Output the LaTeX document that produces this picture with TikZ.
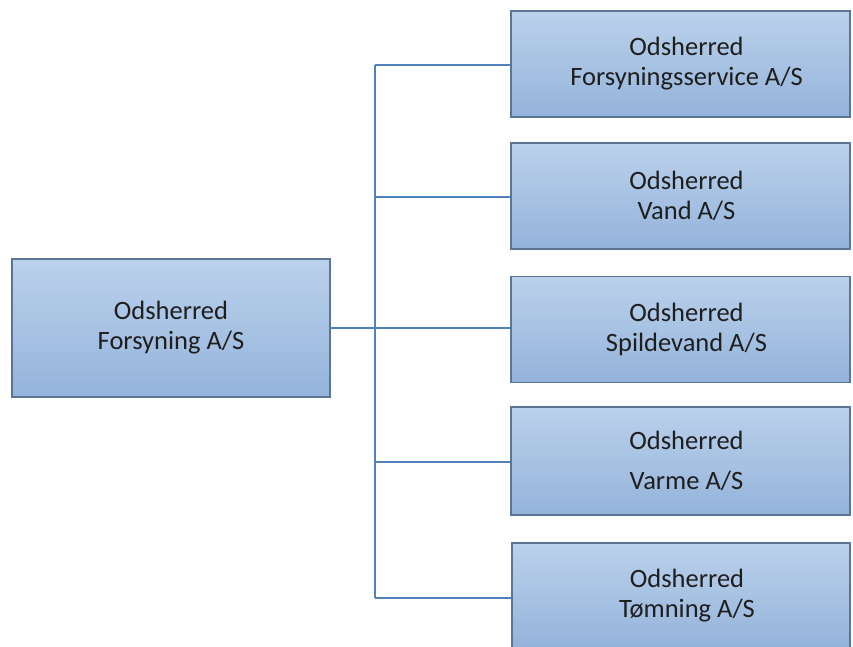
\documentclass[tikz,border=0pt]{standalone}
\usepackage{fontspec}
\setmainfont{Carlito}
\definecolor{boxtop}{HTML}{BBD1EC}
\definecolor{boxbot}{HTML}{94B3DA}
\definecolor{boxline}{HTML}{5B7594}
\definecolor{conn}{HTML}{4F81BD}
\definecolor{txt}{HTML}{1E1E1E}
\begin{document}
\begin{tikzpicture}[x=1pt,y=-1pt,
  orgbox/.style={rectangle, draw=boxline, line width=1.2pt, top color=boxtop, bottom color=boxbot,
    minimum width=339pt, minimum height=106pt, inner sep=0pt, align=center,
    font=\fontsize{26.5}{30}\selectfont, text=txt},
  boxtext/.style={align=center, inner sep=0pt, xshift=6pt,
    font=\fontsize{26.5}{30}\selectfont, text=txt},
  link/.style={draw=conn, line width=1.5pt}]
\useasboundingbox (0,0) rectangle (853,646);
\clip (0,0) rectangle (853,646);
\node[orgbox, minimum width=318pt, minimum height=138pt] (root) at (171,328) {Odsherred\\Forsyning A/S};
\node[orgbox] (c1) at (680.5,64) {};
\node[orgbox] (c2) at (680.5,196) {};
\node[orgbox] (c3) at (680.5,329.5) {};
\node[orgbox, minimum height=108pt] (c4) at (680.5,461) {};
\node[orgbox, minimum width=338pt] (c5) at (681,596) {};
\node[boxtext] (c1t) at (c1) {Odsherred\\Forsyningsservice A/S};
\node[boxtext] (c2t) at (c2) {Odsherred\\Vand A/S};
\node[boxtext] (c3t) at (c3) {Odsherred\\Spildevand A/S};
\node[boxtext] (c4t) at (c4) {Odsherred\\[10pt]Varme A/S};
\node[boxtext] (c5t) at (c5) {Odsherred\\Tømning A/S};
\coordinate (j) at (375,328);
\coordinate (t1) at (375,65);
\coordinate (t2) at (375,197);
\coordinate (t4) at (375,462);
\coordinate (t5) at (375,598);
\draw[link] (root.east |- j) -- (j);
\draw[link] (t1) -- (t5);
\draw[link] (t1) -- (t1 -| c1.west);
\draw[link] (t2) -- (t2 -| c2.west);
\draw[link] (j) -- (j -| c3.west);
\draw[link] (t4) -- (t4 -| c4.west);
\draw[link] (t5) -- (t5 -| c5.west);
\end{tikzpicture}
\end{document}
